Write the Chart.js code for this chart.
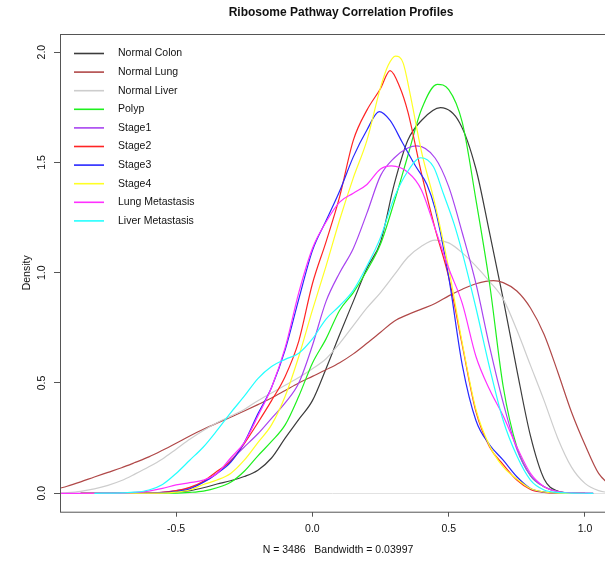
<!DOCTYPE html>
<html>
<head>
<meta charset="utf-8">
<title>Ribosome Pathway Correlation Profiles</title>
<script src="https://cdn.jsdelivr.net/npm/chart.js@4.4.1/dist/chart.umd.min.js"></script>
<style>
  html, body { margin: 0; padding: 0; background: #fff; }
  #wrap { width: 605px; height: 561px; }
</style>
</head>
<body>
<div id="wrap"><canvas id="dens" width="605" height="561"></canvas></div>
<script>
"use strict"

// kernel density of pathway correlations, one curve per tissue group ([x, density])
const normalColon = [[-0.85,0],[-0.6,0.001],[-0.55,0.002],[-0.5,0.006],[-0.45,0.012],[-0.4,0.025],[-0.35,0.042],[-0.3,0.057],[-0.25,0.076],[-0.2,0.105],[-0.15,0.16],[-0.1,0.25],[-0.05,0.335],[0,0.42],[0.05,0.565],[0.1,0.72],[0.15,0.87],[0.2,1.02],[0.25,1.14],[0.3,1.40],[0.35,1.60],[0.4,1.69],[0.47,1.748],[0.54,1.68],[0.6,1.47],[0.65,1.18],[0.7,0.88],[0.75,0.56],[0.8,0.26],[0.85,0.065],[0.9,0.01],[0.95,0.001],[1.0,0]]
const normalLung = [[-0.93,0.022],[-0.9,0.032],[-0.85,0.052],[-0.8,0.074],[-0.75,0.095],[-0.7,0.116],[-0.65,0.14],[-0.6,0.165],[-0.55,0.195],[-0.5,0.227],[-0.45,0.26],[-0.4,0.29],[-0.35,0.318],[-0.3,0.345],[-0.25,0.373],[-0.2,0.402],[-0.15,0.432],[-0.1,0.466],[-0.05,0.5],[0,0.53],[0.05,0.56],[0.1,0.592],[0.15,0.632],[0.2,0.68],[0.25,0.73],[0.3,0.78],[0.35,0.81],[0.4,0.835],[0.45,0.86],[0.5,0.895],[0.55,0.925],[0.6,0.95],[0.664,0.964],[0.7,0.955],[0.75,0.917],[0.8,0.84],[0.85,0.72],[0.9,0.55],[0.95,0.37],[1.0,0.22],[1.05,0.09],[1.1,0.03]]
const normalLiver = [[-0.93,0.001],[-0.9,0.003],[-0.85,0.009],[-0.8,0.02],[-0.75,0.036],[-0.7,0.058],[-0.65,0.088],[-0.6,0.12],[-0.55,0.156],[-0.5,0.2],[-0.45,0.245],[-0.4,0.285],[-0.35,0.32],[-0.3,0.35],[-0.25,0.38],[-0.2,0.42],[-0.15,0.455],[-0.1,0.49],[-0.05,0.525],[0,0.565],[0.05,0.61],[0.1,0.68],[0.15,0.76],[0.2,0.84],[0.25,0.91],[0.3,0.99],[0.35,1.07],[0.4,1.12],[0.45,1.148],[0.5,1.135],[0.55,1.09],[0.6,1.03],[0.65,0.96],[0.7,0.88],[0.75,0.74],[0.8,0.58],[0.85,0.42],[0.9,0.25],[0.95,0.12],[1.0,0.045],[1.05,0.012],[1.1,0.002]]
const polyp = [[-0.85,0],[-0.5,0.001],[-0.45,0.004],[-0.4,0.01],[-0.35,0.025],[-0.3,0.05],[-0.25,0.1],[-0.2,0.17],[-0.15,0.235],[-0.1,0.31],[-0.05,0.44],[0,0.59],[0.05,0.7],[0.1,0.83],[0.15,0.91],[0.2,1.01],[0.25,1.13],[0.3,1.32],[0.35,1.53],[0.4,1.74],[0.458,1.854],[0.5,1.83],[0.55,1.68],[0.6,1.33],[0.65,0.95],[0.7,0.483],[0.75,0.21],[0.8,0.08],[0.85,0.03],[0.9,0.008],[0.95,0.001],[1.03,0]]
const stage1 = [[-0.85,0],[-0.6,0.001],[-0.55,0.005],[-0.5,0.012],[-0.45,0.025],[-0.4,0.05],[-0.35,0.09],[-0.3,0.15],[-0.25,0.21],[-0.2,0.27],[-0.15,0.34],[-0.1,0.41],[-0.05,0.5],[0,0.67],[0.05,0.87],[0.1,1.0],[0.15,1.11],[0.2,1.27],[0.25,1.44],[0.3,1.52],[0.35,1.565],[0.383,1.575],[0.45,1.52],[0.5,1.39],[0.55,1.18],[0.6,0.95],[0.65,0.665],[0.7,0.41],[0.75,0.2],[0.8,0.08],[0.85,0.03],[0.9,0.008],[0.95,0.001],[1.03,0]]
const stage2 = [[-0.85,0],[-0.6,0.001],[-0.55,0.004],[-0.5,0.012],[-0.45,0.027],[-0.4,0.055],[-0.35,0.1],[-0.3,0.145],[-0.25,0.225],[-0.2,0.32],[-0.15,0.42],[-0.1,0.53],[-0.05,0.69],[0,0.95],[0.05,1.14],[0.1,1.345],[0.15,1.6],[0.2,1.737],[0.25,1.835],[0.285,1.916],[0.32,1.843],[0.35,1.73],[0.4,1.45],[0.45,1.2],[0.5,0.98],[0.55,0.67],[0.6,0.37],[0.65,0.21],[0.7,0.13],[0.75,0.06],[0.8,0.018],[0.85,0.004],[0.9,0.001],[1.0,0]]
const stage3 = [[-0.85,0],[-0.6,0.001],[-0.55,0.003],[-0.5,0.008],[-0.45,0.02],[-0.4,0.05],[-0.35,0.09],[-0.3,0.14],[-0.25,0.23],[-0.2,0.36],[-0.15,0.48],[-0.1,0.65],[-0.05,0.88],[0,1.1],[0.05,1.235],[0.1,1.37],[0.15,1.525],[0.2,1.647],[0.245,1.73],[0.285,1.69],[0.33,1.59],[0.38,1.48],[0.42,1.4],[0.45,1.29],[0.5,0.98],[0.55,0.58],[0.6,0.33],[0.65,0.22],[0.7,0.15],[0.75,0.075],[0.8,0.022],[0.85,0.006],[0.9,0.001],[1.0,0]]
const stage4 = [[-0.85,0],[-0.55,0.001],[-0.5,0.005],[-0.45,0.015],[-0.4,0.04],[-0.35,0.06],[-0.3,0.09],[-0.25,0.15],[-0.2,0.23],[-0.15,0.31],[-0.1,0.44],[-0.05,0.62],[0,0.83],[0.05,1.03],[0.1,1.24],[0.15,1.43],[0.2,1.6],[0.25,1.84],[0.278,1.94],[0.305,1.982],[0.333,1.95],[0.36,1.8],[0.4,1.55],[0.45,1.31],[0.5,1.02],[0.55,0.68],[0.6,0.38],[0.65,0.215],[0.7,0.12],[0.75,0.065],[0.8,0.022],[0.85,0.006],[0.9,0.001],[1.0,0]]
const lungMet = [[-0.93,0],[-0.7,0.001],[-0.65,0.004],[-0.6,0.01],[-0.55,0.022],[-0.5,0.038],[-0.45,0.048],[-0.4,0.06],[-0.35,0.09],[-0.3,0.16],[-0.25,0.23],[-0.2,0.35],[-0.15,0.48],[-0.1,0.66],[-0.05,0.91],[0,1.11],[0.05,1.23],[0.1,1.32],[0.15,1.36],[0.2,1.4],[0.25,1.47],[0.29,1.484],[0.35,1.455],[0.4,1.375],[0.45,1.2],[0.5,1.02],[0.55,0.86],[0.6,0.62],[0.65,0.47],[0.7,0.35],[0.75,0.21],[0.8,0.09],[0.85,0.03],[0.9,0.008],[0.95,0.002],[1.03,0]]
const liverMet = [[-0.8,0],[-0.7,0.002],[-0.65,0.005],[-0.6,0.015],[-0.55,0.04],[-0.5,0.09],[-0.45,0.15],[-0.4,0.21],[-0.35,0.285],[-0.3,0.365],[-0.25,0.44],[-0.2,0.52],[-0.15,0.575],[-0.1,0.607],[-0.05,0.635],[0,0.7],[0.05,0.79],[0.1,0.85],[0.15,0.92],[0.2,1.03],[0.25,1.16],[0.3,1.34],[0.35,1.46],[0.397,1.521],[0.444,1.48],[0.48,1.36],[0.52,1.22],[0.55,1.09],[0.6,0.84],[0.65,0.57],[0.7,0.33],[0.75,0.17],[0.8,0.06],[0.85,0.015],[0.9,0.004],[0.95,0.001],[1.03,0]]

const groups = ["Normal Colon", "Normal Lung", "Normal Liver", "Polyp", "Stage1", "Stage2", "Stage3", "Stage4", "Lung Metastasis", "Liver Metastasis"]
const curves = [normalColon, normalLung, normalLiver, polyp, stage1, stage2, stage3, stage4, lungMet, liverMet]
const colours = ["#3c3c3c", "#b04848", "#cdcdcd", "#1ef01e", "#a844f0", "#ff2424", "#2828ff", "#ffff24", "#ff30ff", "#24ffff"]

const xTicks = [-0.5, 0, 0.5, 1]
const yTicks = [0, 0.5, 1, 1.5, 2]
const mainTitle = "Ribosome Pathway Correlation Profiles"
const subTitle = "N = 3486   Bandwidth = 0.03997"
const yName = "Density"

const FONT = "'Liberation Sans', Arial, Helvetica, sans-serif"
const INK = "#555555"

// R-style decorations: box, zero line, rotated y labels, titles and legend
const baseGraphics = {
    id: "baseGraphics",
    beforeDatasetsDraw(chart) {
        const ctx = chart.ctx
        const a = chart.chartArea
        const y0 = Math.round(chart.scales.y.getPixelForValue(0)) + 0.5
        ctx.save()
        ctx.strokeStyle = "#e2e2e2"
        ctx.lineWidth = 1
        ctx.beginPath()
        ctx.moveTo(a.left, y0)
        ctx.lineTo(a.right, y0)
        ctx.stroke()
        ctx.restore()
    },
    afterDraw(chart) {
        const ctx = chart.ctx
        const a = chart.chartArea
        const ys = chart.scales.y
        ctx.save()

        // plot box, right edge runs past the canvas
        ctx.strokeStyle = INK
        ctx.lineWidth = 1
        ctx.strokeRect(a.left + 0.5, a.top + 0.5, a.right - a.left + 20, a.bottom - a.top)

        ctx.fillStyle = "#111"
        ctx.font = "10.5px " + FONT
        ctx.textAlign = "center"
        ctx.textBaseline = "middle"
        yTicks.forEach(v => {
            ctx.save()
            ctx.translate(42, ys.getPixelForValue(v))
            ctx.rotate(-Math.PI / 2)
            ctx.fillText(v.toFixed(1), 0, 0)
            ctx.restore()
        })

        ctx.save()
        ctx.translate(27, (a.top + a.bottom) / 2)
        ctx.rotate(-Math.PI / 2)
        ctx.fillText(yName, 0, 0)
        ctx.restore()

        ctx.fillText(subTitle, 338, 550)

        ctx.font = "bold 12px " + FONT
        ctx.fillText(mainTitle, 341, 13)

        // legend, no frame
        ctx.font = "10.5px " + FONT
        ctx.textAlign = "left"
        groups.forEach((g, i) => {
            const yy = 53.5 + i * 18.6
            ctx.strokeStyle = colours[i]
            ctx.lineWidth = 1.6
            ctx.beginPath()
            ctx.moveTo(74, yy)
            ctx.lineTo(104, yy)
            ctx.stroke()
            ctx.fillStyle = "#111"
            ctx.fillText(g, 118, yy)
        })
        ctx.restore()
    }
}

let densChart = new Chart(document.querySelector("#dens"), {
    type: "line",
    data: {
        datasets: groups.map((g, i) => ({
            label: g,
            data: curves[i].map(p => ({x: p[0], y: p[1]})),
            borderColor: colours[i],
            borderWidth: 1.2,
            pointRadius: 0,
            fill: false,
            cubicInterpolationMode: "monotone",
            order: groups.length - i
        }))
    },
    options: {
        responsive: false,
        animation: false,
        devicePixelRatio: 1,
        layout: {padding: {top: 34, right: 0, bottom: 0, left: 0}},
        plugins: {legend: {display: false}, title: {display: false}, tooltip: {enabled: false}},
        scales: {
            x: {
                type: "linear",
                min: -0.926,
                max: 1.0734,
                afterFit: s => { s.height = 49.3 },
                afterBuildTicks: s => { s.ticks = xTicks.map(v => ({value: v})) },
                border: {display: false},
                grid: {drawOnChartArea: false, drawTicks: true, tickLength: 5, tickColor: INK, tickWidth: 1},
                ticks: {
                    autoSkip: false,
                    maxRotation: 0,
                    padding: 6,
                    color: "#111",
                    font: {family: FONT, size: 10.5},
                    callback: v => v.toFixed(1)
                }
            },
            y: {
                type: "linear",
                min: -0.0834,
                max: 2.082,
                afterFit: s => { s.width = 60 },
                afterBuildTicks: s => { s.ticks = yTicks.map(v => ({value: v})) },
                border: {display: false},
                grid: {drawOnChartArea: false, drawTicks: true, tickLength: 6, tickColor: INK, tickWidth: 1},
                ticks: {display: false}
            }
        }
    },
    plugins: [baseGraphics]
})
</script>
</body>
</html>
